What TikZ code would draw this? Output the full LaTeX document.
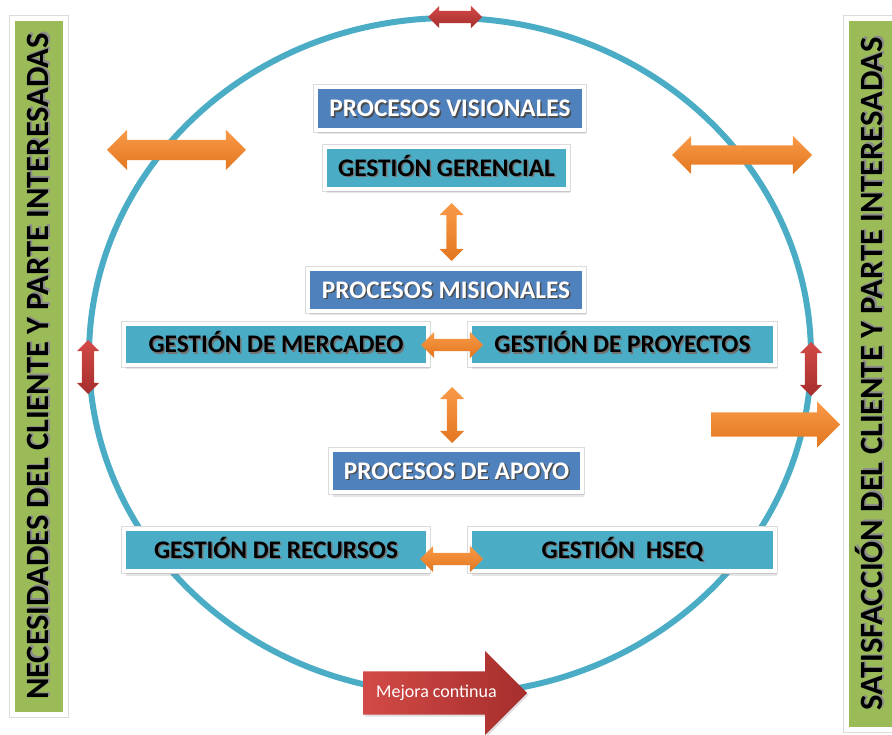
\documentclass[tikz,border=0pt]{standalone}
\usepackage{fontspec}
\setmainfont{Carlito}
\usetikzlibrary{shapes.arrows,shadows}

\definecolor{cblue}{HTML}{4F81BD}
\definecolor{cteal}{HTML}{4BACC6}
\definecolor{cgreen}{HTML}{9BBB59}
\definecolor{corgL}{HTML}{F99A48}
\definecolor{corgD}{HTML}{E2761F}
\definecolor{credL}{HTML}{D24A47}
\definecolor{credD}{HTML}{A52E2C}

% text with a soft offset shadow
\newcommand\shtxt[2]{\makebox[0pt][l]{\hspace{1.5pt}\raisebox{-1.5pt}{\color{#1}#2}}#2}

\tikzset{
  boxbase/.style={rectangle, draw=white, line width=4pt, inner sep=0pt,
    preaction={draw=black!14, line width=6pt},
    font=\bfseries\fontsize{25.3}{25.3}\selectfont, text height=16.3pt, text depth=0pt,
    drop shadow={shadow xshift=1.5pt, shadow yshift=-4.5pt, opacity=0.2}},
  procbox/.style={boxbase, fill=cblue, text=white},
  gestbox/.style={boxbase, fill=cteal, text=black},
  sidebar/.style={rectangle, fill=cgreen, draw=white, line width=5pt, inner sep=0pt,
    preaction={draw=black!14, line width=7pt},
    rotate=90, font=\bfseries\fontsize{32.5}{32.5}\selectfont, text=black,
    text height=20.9pt, text depth=0pt},
  orgfill/.style={top color=corgL, bottom color=corgD, inner xsep=0pt, draw=none},
  redfill/.style={top color=credL, bottom color=credD, inner xsep=0pt, draw=none},
  dblarrow/.style={double arrow, double arrow tip angle=90},
  sglarrow/.style={single arrow, single arrow tip angle=90},
}

\begin{document}
\begin{tikzpicture}[x=1pt, y=-1pt]
\useasboundingbox (0,0) rectangle (892,735);
\clip (0,0) rectangle (892,735);

% the cycle
\draw[cteal, line width=6pt] (450,356) ellipse [x radius=361, y radius=338];

% side bars
\node[sidebar, minimum width=696pt, minimum height=53pt] (lbar) at (38.5,366.5)
  {\shtxt{black!45}{NECESIDADES DEL CLIENTE Y PARTE INTERESADAS}};
\node[sidebar, minimum width=711pt, minimum height=53pt] (rbar) at (872.5,374)
  {\shtxt{black!45}{SATISFACCIÓN DEL CLIENTE Y PARTE INTERESADAS}};

% process boxes
\node[procbox, minimum width=268pt, minimum height=43pt] (vis) at (450,108.5)
  {\shtxt{black!70}{PROCESOS VISIONALES}};
\node[gestbox, minimum width=243pt, minimum height=42pt] (ger) at (446.5,168)
  {\shtxt{black!55}{GESTIÓN GERENCIAL}};
\node[procbox, minimum width=276pt, minimum height=42pt] (mis) at (446,290)
  {\shtxt{black!70}{PROCESOS MISIONALES}};
\node[gestbox, minimum width=304pt, minimum height=41pt] (mer) at (276,344.5)
  {\shtxt{black!55}{GESTIÓN DE MERCADEO}};
\node[gestbox, minimum width=305pt, minimum height=41pt] (pro) at (622.5,344.5)
  {\shtxt{black!55}{GESTIÓN DE PROYECTOS}};
\node[procbox, minimum width=251pt, minimum height=42pt] (apo) at (456.5,471)
  {\shtxt{black!70}{PROCESOS DE APOYO}};
\node[gestbox, minimum width=304pt, minimum height=42pt] (rec) at (276,550)
  {\shtxt{black!55}{GESTIÓN DE RECURSOS}};
\node[gestbox, minimum width=305pt, minimum height=42pt] (hseq) at (622.5,550)
  {\shtxt{black!55}{GESTIÓN\ \ HSEQ}};

% links between the boxes
\node[dblarrow, orgfill, rotate=90, minimum height=58pt, inner ysep=5pt,
  double arrow head extend=7pt] (v1) at (451.5,232) {};
\node[dblarrow, orgfill, rotate=90, minimum height=56pt, inner ysep=5pt,
  double arrow head extend=7pt] (v2) at (452,415) {};
\node[dblarrow, orgfill, minimum height=62pt, inner ysep=6pt,
  double arrow head extend=7pt] (h1) at (452,345) {};
\node[dblarrow, orgfill, minimum height=63pt, inner ysep=6pt,
  double arrow head extend=7pt] (h2) at (451.5,559) {};

% exchanges across the cycle
\node[dblarrow, orgfill, minimum height=139pt, inner ysep=10pt,
  double arrow head extend=10pt] (lo) at (176.5,150) {};
\node[dblarrow, orgfill, minimum height=140pt, inner ysep=9.5pt,
  double arrow head extend=9.5pt] (ro) at (742,155) {};
\node[sglarrow, orgfill, minimum height=129pt, inner ysep=12pt,
  single arrow head extend=11pt, anchor=tail] (so) at (711,424.5) {};

% red markers on the cycle
\node[dblarrow, redfill, minimum height=54pt, inner ysep=6pt,
  double arrow head extend=5pt] (tr) at (455,17) {};
\node[dblarrow, redfill, rotate=90, minimum height=54pt, inner ysep=6pt,
  double arrow head extend=5pt] (lr) at (88,367) {};
\node[dblarrow, redfill, rotate=90, minimum height=54pt, inner ysep=6pt,
  double arrow head extend=5pt] (rr) at (811,369) {};

% continuous improvement
\node[sglarrow, left color=credL, right color=credD, inner xsep=0pt, inner ysep=21.5pt,
  minimum height=164pt, single arrow head extend=20.5pt,
  anchor=tail, drop shadow={shadow xshift=1.5pt, shadow yshift=-2pt, opacity=0.25}]
  (mej) at (363,693) {};
\node[text=white, font=\fontsize{18}{18}\selectfont, inner sep=0pt] (mejtxt) at (436.5,693)
  {Mejora continua};
\end{tikzpicture}
\end{document}
